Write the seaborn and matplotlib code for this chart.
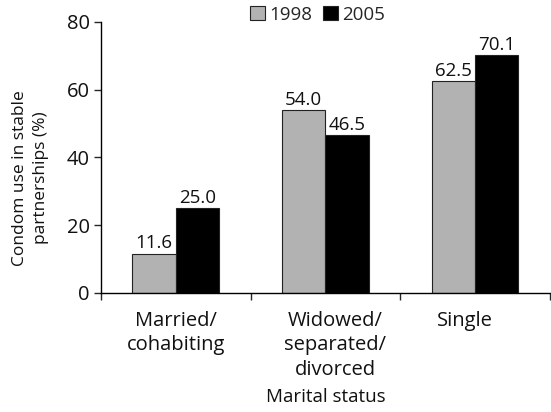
import matplotlib
matplotlib.use("Agg")
import matplotlib.pyplot as plt
import matplotlib.transforms as mtransforms
import seaborn as sns
import pandas as pd
from matplotlib.ticker import FixedLocator

# Data
categories = ["Married/\ncohabiting", "Widowed/\nseparated/\ndivorced", "Single"]
years = ["1998", "2005"]
values_1998 = [11.6, 54.0, 62.5]
values_2005 = [25.0, 46.5, 70.1]
colors = ["#b2b2b2", "#000000"]

df = pd.DataFrame({
    "status": categories * 2,
    "year": [years[0]] * 3 + [years[1]] * 3,
    "value": values_1998 + values_2005,
})

sns.set_style("white")
plt.rcParams["font.family"] = ["Open Sans", "DejaVu Sans"]

fig = plt.figure(figsize=(5.51, 4.12), dpi=100)
ax = fig.add_axes([0.183, 0.289, 0.815, 0.658])

sns.barplot(data=df, x="status", y="value", hue="year", palette=colors,
            width=0.58, edgecolor="#222222", linewidth=0.8, ax=ax)

# value labels above bars
for cont in ax.containers:
    ax.bar_label(cont, fmt="%.1f", padding=1, fontsize=13.5, color="#111111")

ax.set_ylim(0, 80)
ax.set_xlim(-0.5, 2.5)
ax.set_yticks([0, 20, 40, 60, 80])
ax.tick_params(axis="y", which="major", direction="out", length=5, width=1,
               left=True, labelsize=14.5, pad=3, labelcolor="#111111")
ax.tick_params(axis="x", which="major", length=0, labelsize=14.5, pad=13,
               labelcolor="#111111")
ax.xaxis.set_minor_locator(FixedLocator([-0.5, 0.5, 1.5, 2.5]))
ax.tick_params(axis="x", which="minor", direction="out", length=5, width=1, bottom=True)

# small horizontal nudges like the original layout
shifts = [0, 10, -10]
for lbl, dx in zip(ax.get_xticklabels(), shifts):
    lbl.set_verticalalignment("top")
    lbl.set_linespacing(1.3)
    lbl.set_transform(lbl.get_transform() + mtransforms.ScaledTranslation(dx / 100, 0, fig.dpi_scale_trans))

ax.set_xlabel("Marital status", fontsize=13.5, labelpad=6, color="#111111")
ax.set_ylabel("Condom use in stable\npartnerships (%)", fontsize=12.5,
              color="#111111", linespacing=1.45, va="center")
ax.yaxis.set_label_coords(-0.156, 0.424)

for s in ["top", "right"]:
    ax.spines[s].set_visible(False)
for s in ["left", "bottom"]:
    ax.spines[s].set_color("black")
    ax.spines[s].set_linewidth(1)

ax.legend(loc="center", bbox_to_anchor=(0.483, 1.026), ncol=2, frameon=False,
          fontsize=13.5, handlelength=0.8, handleheight=0.8, handletextpad=0.2,
          columnspacing=0.6, borderpad=0, title=None)

fig.savefig("out.png", dpi=100)
